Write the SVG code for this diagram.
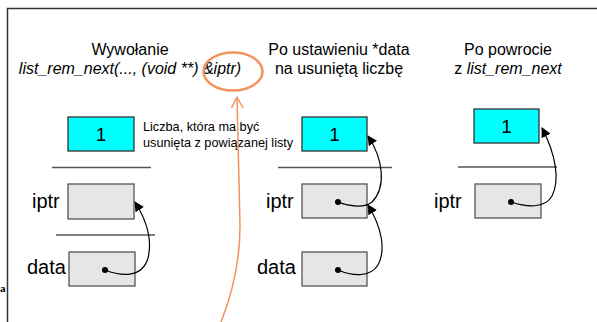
<svg xmlns="http://www.w3.org/2000/svg" width="597" height="322" viewBox="0 0 597 322">
  <style>
    .t { font-family: "Liberation Sans", Arial, sans-serif; fill: #000; }
    .head { font-size: 16px; text-anchor: middle; }
    .it { font-style: italic; }
    .lbl { font-size: 20px; }
    .num { font-size: 19px; text-anchor: middle; }
    .note { font-size: 12.7px; }
    .cell { fill: #e6e6e6; stroke: #555; stroke-width: 1.3; }
    .val { fill: #00ffff; stroke: #333; stroke-width: 1.3; }
    .rule { stroke: #555; stroke-width: 1.3; }
    .ptr { fill: none; stroke: #000; stroke-width: 1.2; marker-end: url(#arrow); }
    .dot { fill: #000; }
  </style>
  <defs>
    <marker id="arrow" viewBox="0 0 10 10" refX="9" refY="5" markerWidth="10" markerHeight="10" markerUnits="userSpaceOnUse" orient="auto">
      <path d="M0,0 L10,5 L0,10 Z" fill="#000"/>
    </marker>
  </defs>

  <!-- frame -->
  <path d="M7.5,322 L7.5,8.5 L597,8.5" fill="none" stroke="#333" stroke-width="1.5"/>
  <text x="0" y="292" font-family="'Liberation Serif', serif" font-weight="bold" font-size="11">a</text>

  <!-- column headings -->
  <g id="heading-call">
    <text class="t head" x="130" y="55">Wywołanie</text>
    <text class="t head it" x="130" y="74">list_rem_next(..., (void **) &amp;iptr)</text>
  </g>
  <g id="heading-set">
    <text class="t head" x="339" y="55">Po ustawieniu *data</text>
    <text class="t head" x="339" y="74">na usuniętą liczbę</text>
  </g>
  <g id="heading-return">
    <text class="t head" x="508" y="55">Po powrocie</text>
    <text class="t head" x="508" y="74">z <tspan class="it">list_rem_next</tspan></text>
  </g>

  <!-- column 1 -->
  <g id="val1">
    <rect class="val" x="68" y="117" width="66" height="34"/>
    <text class="t num" x="101" y="141">1</text>
  </g>
  <g id="note1">
    <text class="t note" x="143" y="131">Liczba, która ma być</text>
    <text class="t note" x="143" y="147">usunięta z powiązanej listy</text>
  </g>
  <line class="rule" x1="52" y1="167.5" x2="151" y2="167.5"/>
  <g id="iptr1">
    <text class="t lbl" x="32" y="208">iptr</text>
    <rect class="cell" x="68" y="184" width="66" height="35"/>
  </g>
  <line class="rule" x1="56" y1="235" x2="155" y2="235"/>
  <g id="data1">
    <text class="t lbl" x="27" y="274">data</text>
    <rect class="cell" x="69" y="252" width="66" height="34"/>
  </g>

  <!-- column 2 -->
  <g id="val2">
    <rect class="val" x="302" y="117" width="65" height="34"/>
    <text class="t num" x="334.5" y="141">1</text>
  </g>
  <line class="rule" x1="278" y1="167.5" x2="392" y2="167.5"/>
  <g id="iptr2">
    <text class="t lbl" x="266" y="208">iptr</text>
    <rect class="cell" x="302" y="184" width="65" height="34"/>
  </g>
  <g id="data2">
    <text class="t lbl" x="257" y="274">data</text>
    <rect class="cell" x="302" y="252" width="65" height="34"/>
  </g>

  <!-- column 3 -->
  <g id="val3">
    <rect class="val" x="474" y="109" width="65" height="34"/>
    <text class="t num" x="506.5" y="133">1</text>
  </g>
  <line class="rule" x1="458" y1="167" x2="557" y2="167"/>
  <g id="iptr3">
    <text class="t lbl" x="434" y="208">iptr</text>
    <rect class="cell" x="475" y="184" width="66" height="34"/>
  </g>

  <!-- pointers -->
  <g id="connectors">
    <circle class="dot" cx="105" cy="270" r="3"/>
    <path class="ptr" d="M105,270 C120,276 142,279 148,258 C153,238 145,218 135,202"/>

    <circle class="dot" cx="338" cy="202" r="3"/>
    <path class="ptr" d="M338,202 C350,207 365,208 372,202 C386,188 384,160 368,136"/>
    <circle class="dot" cx="338" cy="270" r="3"/>
    <path class="ptr" d="M338,270 C352,276 370,278 378,265 C386,250 382,228 368,205"/>

    <circle class="dot" cx="511" cy="202" r="3"/>
    <path class="ptr" d="M511,202 C526,207 545,209 552,196 C560,180 556,155 542,128"/>

    <!-- highlight on &iptr -->
    <ellipse cx="233" cy="71.5" rx="29.5" ry="19" fill="none" stroke="#f4915d" stroke-width="2.5"/>
    <path d="M221,322 C233,292 240,262 240,225 L237,98" fill="none" stroke="#f4915d" stroke-width="1.5"/>
    <path d="M231.5,108 L237,97 L243,108" fill="none" stroke="#f4915d" stroke-width="1.5"/>
  </g>
</svg>
